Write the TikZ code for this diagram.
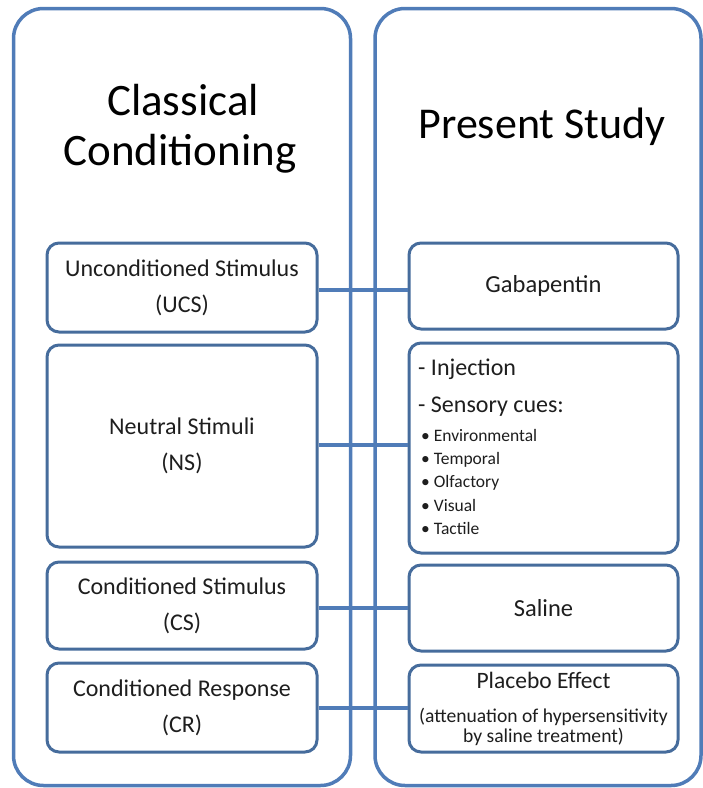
\documentclass[tikz,border=0pt]{standalone}
\usepackage{fontspec}
\setmainfont{Carlito}
\definecolor{bigblue}{RGB}{80,124,184}
\definecolor{smallblue}{RGB}{70,108,156}
\definecolor{txt}{RGB}{30,30,30}
\tikzset{
  bigbox/.style={draw=bigblue, line width=3.5pt, rounded corners=30pt, fill=white, inner sep=0pt},
  smallbox/.style={draw=smallblue, line width=3pt, rounded corners=12pt, fill=white, inner sep=0pt, align=center, text=txt, font=\fontsize{24}{36}\selectfont},
  conn/.style={draw=bigblue, line width=4pt},
  title/.style={anchor=base, text=black, font=\fontsize{45}{52}\selectfont, inner sep=0pt},
  plain/.style={anchor=base west, text=txt, inner sep=0pt}
}
\begin{document}
\begin{tikzpicture}[x=1pt,y=-1pt]
\useasboundingbox (0,0) rectangle (703,788);
% big containers
\node[bigbox, minimum width=337pt, minimum height=777pt] (lbig) at (182,397) {};
\node[bigbox, minimum width=326pt, minimum height=777pt] (rbig) at (538,397) {};
% titles
\node[title] (t1) at (183,115) {Classical};
\node[title] (t2) at (180,165) {Conditioning};
\node[title, font=\fontsize{44}{52}\selectfont] (t3) at (542,138) {Present Study};
% connector heights
\coordinate (c1) at (320,290);
\coordinate (c2) at (320,445);
\coordinate (c3) at (320,608);
\coordinate (c4) at (320,708);
% left boxes
\node[smallbox, minimum width=270pt, minimum height=89pt] (ucs) at (182,287.5) {Unconditioned Stimulus\\(UCS)};
\node[smallbox, minimum width=270pt, minimum height=202pt] (ns) at (182,446) {Neutral Stimuli\\(NS)};
\node[smallbox, minimum width=270pt, minimum height=87pt] (cs) at (182,605.5) {Conditioned Stimulus\\(CS)};
\node[smallbox, minimum width=270pt, minimum height=89pt] (cr) at (182,707.5) {Conditioned Response\\(CR)};
% right boxes
\node[smallbox, minimum width=269pt, minimum height=86pt, font=\fontsize{24.5}{30}\selectfont] (gab) at (543.5,286) {Gabapentin};
\node[smallbox, minimum width=269pt, minimum height=210pt] (inj) at (543.5,448) {};
\node[smallbox, minimum width=269pt, minimum height=86pt, font=\fontsize{24.5}{30}\selectfont] (sal) at (543.5,608) {Saline};
\node[smallbox, minimum width=269pt, minimum height=87pt] (pla) at (543.5,708.5) {};
% connectors
\draw[conn] (ucs.east |- c1) -- (gab.west |- c1);
\draw[conn] (ns.east |- c2) -- (inj.west |- c2);
\draw[conn] (cs.east |- c3) -- (sal.west |- c3);
\draw[conn] (cr.east |- c4) -- (pla.west |- c4);
% injection box text
\node[plain, font=\fontsize{24}{30}\selectfont] (i1) at (418,375) {- Injection};
\node[plain, font=\fontsize{24}{30}\selectfont] (i2) at (418,412) {- Sensory cues:};
\node[plain, font=\fontsize{17.5}{20}\selectfont] (b1) at (421,441) {• Environmental};
\node[plain, font=\fontsize{17.5}{20}\selectfont] (b2) at (421,464) {• Temporal};
\node[plain, font=\fontsize{17.5}{20}\selectfont] (b3) at (421,487.5) {• Olfactory};
\node[plain, font=\fontsize{17.5}{20}\selectfont] (b4) at (421,511) {• Visual};
\node[plain, font=\fontsize{17.5}{20}\selectfont] (b5) at (421,534) {• Tactile};
% placebo box text
\node[anchor=base, inner sep=0pt, text=txt, font=\fontsize{23.5}{28}\selectfont] (p1) at (543.5,688) {Placebo Effect};
\node[anchor=base, inner sep=0pt, text=txt, font=\fontsize{19.6}{22}\selectfont] (p2) at (543.5,722) {(attenuation of hypersensitivity};
\node[anchor=base, inner sep=0pt, text=txt, font=\fontsize{19.6}{22}\selectfont] (p3) at (543.5,742) {by saline treatment)};
\end{tikzpicture}
\end{document}
